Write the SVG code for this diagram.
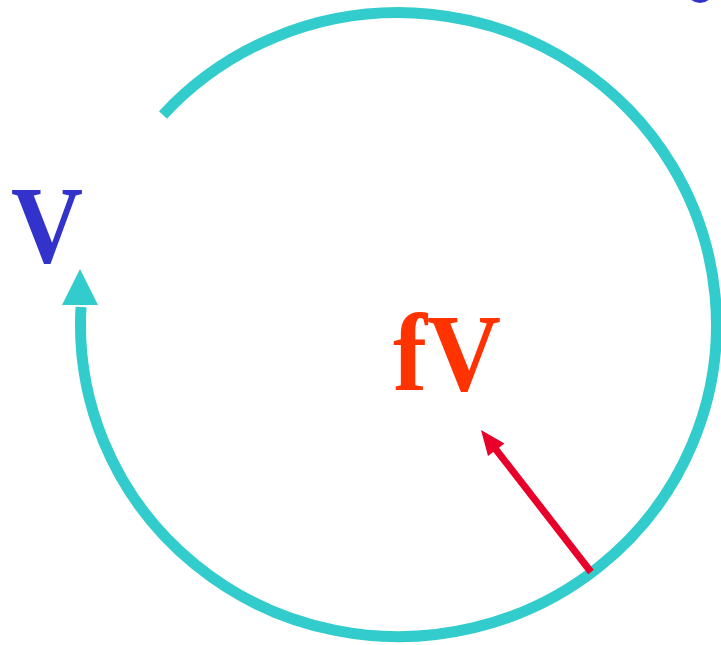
<svg xmlns="http://www.w3.org/2000/svg" width="721" height="645" viewBox="0 0 721 645">
<style>
.lbl{font-family:"Liberation Serif","Times New Roman",serif;font-weight:bold;font-size:110px}
</style>
<rect width="721" height="645" fill="#FFFFFF"/>
<g id="connectors">
<path d="M 163 115 A 318 312 0 1 1 81 307" fill="none" stroke="#33CCCC" stroke-width="11"/>
<polygon points="62,305 98,305 80,269" fill="#33CCCC"/>
<line x1="591" y1="572" x2="494" y2="447" stroke="#E8002A" stroke-width="7"/>
<polygon points="481,430 504.5,443.5 488,456" fill="#E8002A"/>
</g>
<g id="node-v">
<text class="lbl" x="11" y="262" fill="#3333CC" textLength="72" lengthAdjust="spacingAndGlyphs">V</text>
</g>
<g id="node-fv">
<text class="lbl" x="393" y="390" fill="#FF3300" textLength="108" lengthAdjust="spacingAndGlyphs">fV</text>
</g>
<g id="corner">
<ellipse cx="700" cy="-9" rx="13" ry="12" fill="#3333CC"/>
</g>
</svg>
